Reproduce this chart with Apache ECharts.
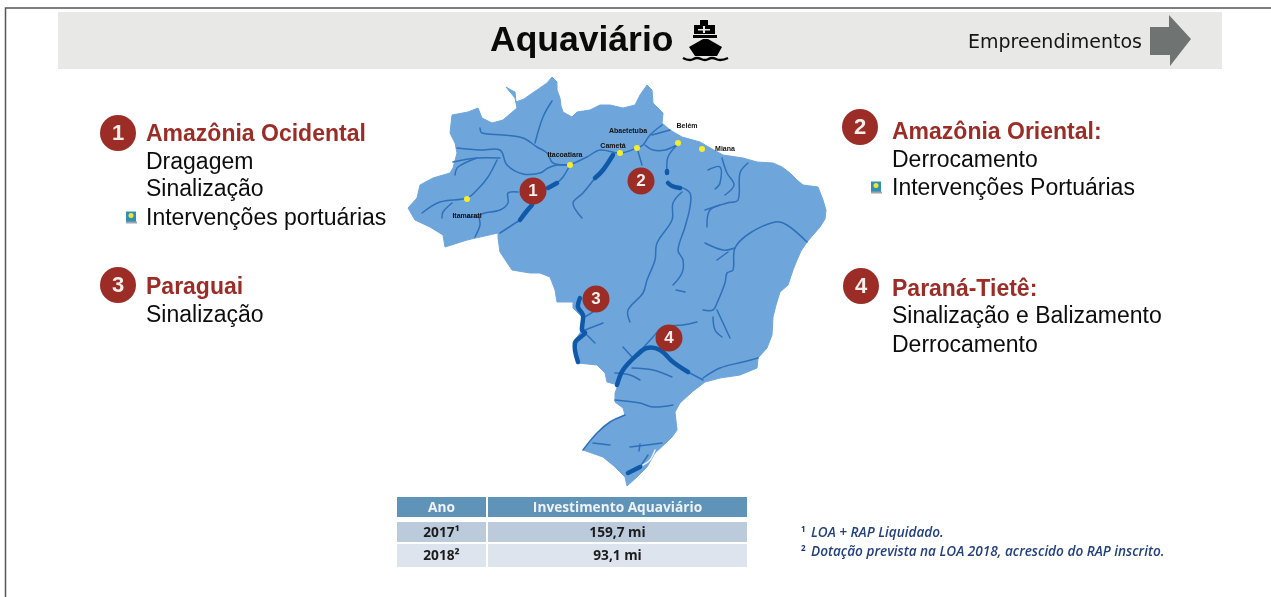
<!DOCTYPE html>
<html>
<head>
<meta charset="utf-8">
<title>Aquaviário</title>
<script src="https://cdn.jsdelivr.net/npm/echarts@6/dist/echarts.min.js"></script>
<style>
html,body{margin:0;padding:0;background:#fff;}
#main{width:1271px;height:597px;}
#main canvas{filter:blur(0.5px);}
</style>
</head>
<body>
<div id="main"></div>
<script>
// map geometry (map units = picture px)
var brazilOutline = [[506,87],[511,90],[515,92],[516,102],[524,99],[531,94],[537,90],[547,83],[552,77],[557,82],[557,90],[560,98],[561,106],[563,112],[572,117],[577,112],[590,110],[600,105],[610,105],[623,108],[635,105],[640,95],[647,85],[652,90],[653,103],[658,108],[663,113],[662,123],[670,130],[682,137],[700,142],[712,149],[723,155],[743,158],[757,162],[773,163],[782,167],[790,173],[797,180],[803,185],[818,187],[823,200],[826,210],[825,219],[820,227],[813,235],[807,242],[801,251],[797,260],[793,270],[788,285],[780,292],[776,305],[773,317],[772,335],[767,348],[758,358],[757,368],[740,375],[720,378],[705,382],[692,392],[680,403],[675,412],[677,430],[672,437],[667,442],[655,453],[647,467],[637,477],[627,486],[625,477],[615,467],[603,457],[583,450],[597,433],[610,422],[625,415],[623,408],[615,402],[615,393],[618,385],[607,382],[605,373],[597,365],[578,363],[576,350],[573,343],[582,330],[582,317],[573,308],[573,302],[557,302],[555,290],[550,277],[540,273],[530,273],[512,270],[500,252],[498,238],[498,233],[480,237],[467,240],[445,247],[443,235],[430,227],[415,220],[408,208],[417,198],[420,185],[433,178],[450,173],[453,168],[457,153],[455,143],[450,133],[452,115],[468,112],[478,108],[482,118],[492,123],[503,120],[517,108],[515,98]];
var thinRivers = [
  [[480,128],[482,133],[503,135],[523,138],[537,147],[547,153],[553,163],[570,165]],
  [[552,101],[543,117],[535,143]],
  [[457,148],[480,150],[500,150],[507,165],[523,174],[540,173],[548,168],[557,165],[570,165]],
  [[453,162],[477,158],[500,158]],
  [[455,175],[458,167],[477,158]],
  [[497,160],[488,177],[477,190],[467,198],[440,202],[422,213]],
  [[452,203],[443,212],[442,218]],
  [[518,192],[508,193],[508,203],[500,210],[480,215],[480,225],[475,237]],
  [[467,217],[480,217]],
  [[500,233],[520,220]],
  [[570,165],[563,177],[557,183]],
  [[582,218],[573,203],[583,193],[595,178]],
  [[570,165],[587,157],[600,150],[620,153],[637,148],[643,145],[650,135],[662,125]],
  [[645,145],[653,150],[665,150],[677,145]],
  [[652,135],[670,130]],
  [[637,148],[642,165]],
  [[677,145],[668,157],[667,172]],
  [[682,192],[673,203],[672,220],[657,243],[655,260],[647,280],[643,293],[628,310],[630,322]],
  [[680,187],[690,193],[690,207],[685,227],[678,250],[683,260],[682,273],[673,285]],
  [[748,163],[740,173],[738,200],[727,203],[710,210],[707,227]],
  [[705,210],[720,205]],
  [[722,158],[727,173],[734,185],[725,195]],
  [[708,170],[720,167],[720,183],[715,189]],
  [[807,242],[787,225],[775,222],[750,233],[735,248],[733,270],[727,273],[725,283],[717,303],[713,310],[703,310]],
  [[705,243],[723,250],[735,248]],
  [[717,260],[728,252]],
  [[717,310],[730,338]],
  [[713,317],[715,330],[722,337]],
  [[697,322],[683,325],[663,327],[653,337],[643,348]],
  [[688,372],[703,380]],
  [[703,378],[720,368],[743,362],[758,358]],
  [[623,347],[632,357]],
  [[632,368],[653,370],[672,377]],
  [[615,373],[630,375],[640,380]],
  [[615,400],[640,403],[653,407],[673,405]],
  [[583,450],[597,433],[610,422],[625,415]],
  [[593,443],[610,445]],
  [[630,447],[647,445],[662,443]],
  [[640,444],[639,451]],
  [[640,467],[648,455]],
  [[583,318],[593,312]],
  [[585,330],[603,323]],
  [[585,333],[595,343]],
  [[676,290],[685,292]]
];
var mainRivers = [
  [[520,220],[526,212],[532,205]],
  [[548,188],[557,183]],
  [[595,178],[603,170],[613,155]],
  [[667,171],[667,173]],
  [[668,183],[672,186],[680,188]],
  [[617,385],[623,370],[637,355],[647,348],[660,350],[673,362],[688,372]],
  [[628,473],[640,467]],
  [[580,298],[578,307],[583,315],[582,330],[585,333],[575,343],[578,362]]
];
var lagoon = [[[655,450],[650,460],[643,465]]];

var ports = [
  ['Itamarati',[467,199]],
  ['Itacoatiara',[570,165]],
  ['Cametá',[620,153]],
  ['Abaetetuba',[637,148]],
  ['Belém',[678,143]],
  ['Miana',[702,149]]
];
var corridors = [['1',[533,191]],['2',[641,181]],['3',[596,299]],['4',[669,338]]];

var title = 'Aquaviário';
var navLabel = 'Empreendimentos';
var blocks = [
  {n:'1',head:'Amazônia Ocidental',items:['Dragagem','Sinalização','Intervenções portuárias'],port:2},
  {n:'2',head:'Amazônia Oriental:',items:['Derrocamento','Intervenções Portuárias'],port:1},
  {n:'3',head:'Paraguai',items:['Sinalização'],port:-1},
  {n:'4',head:'Paraná-Tietê:',items:['Sinalização e Balizamento','Derrocamento'],port:-1}
];
var tableHead = ['Ano','Investimento Aquaviário'];
var tableYears = ['2017¹','2018²'];
var tableValues = ['159,7 mi','93,1 mi'];
var footnotes = ['LOA + RAP Liquidado.','Dotação prevista na LOA 2018, acrescido do RAP inscrito.'];

var RED = '#9b2c26', MAPBLUE = '#6ea6dc';
var portOffset = {'Itamarati':[0,17],'Itacoatiara':[-5,-10],'Cametá':[-7,-7],'Abaetetuba':[-9,-17],'Belém':[9,-17],'Miana':[23,0]};

function txt(x,y,text,font,fill,align){
  return {type:'text',silent:true,z:10,style:{x:x,y:y,text:text,font:font,fill:fill,
    textAlign:align||'left',textVerticalAlign:'middle',align:align||'left',verticalAlign:'middle'}};
}
function box(x,y,w,h,fill){
  return {type:'rect',silent:true,z:5,shape:{x:x,y:y,width:w,height:h},style:{fill:fill}};
}
function poly(points,fill){
  return {type:'polygon',silent:true,z:8,shape:{points:points},style:{fill:fill}};
}
function badge(x,y,r,n,size){
  return [
    {type:'circle',silent:true,z:8,shape:{cx:x,cy:y,r:r},style:{fill:RED}},
    txt(x,y+1,n,'bold '+size+'px "Liberation Sans"','#f4efec','center')
  ];
}
function bullet(x,y){
  return [
    box(x-5,y-5,10,11,'#2f8fb5'),
    {type:'rect',silent:true,z:6,shape:{x:x-5,y:y+5,width:11,height:2},style:{fill:'#9aa6ad'}},
    {type:'circle',silent:true,z:7,shape:{cx:x,cy:y-1,r:2.5},style:{fill:'#f2e531'}}
  ];
}

var g = [];
// frame + header band
g.push({type:'polyline',silent:true,z:9,shape:{points:[[5.5,597],[5.5,8],[1271,8]]},style:{stroke:'#555',lineWidth:1.5,fill:null}});
g.push(box(58,12,1164,57,'#e8e8e6'));
g.push(txt(490,41,title,'bold 35.5px "Liberation Sans"','#0a0a0a'));
g.push(txt(968,43,navLabel,'19px "DejaVu Sans"','#151515'));
g.push(poly([[1150,27],[1169,27],[1169,15],[1191,39],[1170,66],[1170,55],[1150,55]],'#6f7473'));
// ship
g.push(box(700,20,8,5,'#000'));
g.push(box(694,25,21,9,'#000'));
g.push(box(703,26,2,7,'#e8e8e6'));
g.push(box(698,29,12,1.5,'#e8e8e6'));
g.push(box(693,35,24,3,'#000'));
g.push(poly([[689,47],[703,39],[708,39],[722,47],[717,56],[695,56]],'#000'));
g.push({type:'polyline',silent:true,z:8,shape:{smooth:0.5,points:[[683,58],[690,60],[697,58],[705,60],[712,58],[720,60],[728,58]]},style:{stroke:'#000',lineWidth:2.4,fill:null}});

// text blocks
var spots = [
  {bx:118,by:133,tx:146,ys:[134.5,162.5,189.5,218.5],px:131},
  {bx:860,by:127,tx:892,ys:[132.5,160.5,188.5],px:876},
  {bx:118,by:285,tx:146,ys:[287.5,315.5]},
  {bx:861,by:286,tx:892,ys:[289.5,316.5,345.5]}
];
blocks.forEach(function(b,i){
  var s = spots[i];
  g = g.concat(badge(s.bx,s.by,18,b.n,22));
  g.push(txt(s.tx,s.ys[0],b.head,'bold 23px "Liberation Sans"',RED));
  b.items.forEach(function(t,j){
    g.push(txt(s.tx,s.ys[j+1],t,'23px "Liberation Sans"','#0d0d0d'));
    if(j===b.port){ g = g.concat(bullet(s.px,s.ys[j+1]-2)); }
  });
});

// table
var tf = 'bold 13.7px "Open Sans"';
g.push(box(397,497,89,20,'#5f93b8'));
g.push(box(488,497,259,20,'#5f93b8'));
g.push(txt(441.5,508,tableHead[0],tf,'#eef3f7','center'));
g.push(txt(617.5,508,tableHead[1],tf,'#eef3f7','center'));
var rowY = [522,544], rowH = [20,23], rowFill = ['#bccbdc','#dde4ee'];
tableYears.forEach(function(y,i){
  g.push(box(397,rowY[i],89,rowH[i],rowFill[i]));
  g.push(box(488,rowY[i],259,rowH[i],rowFill[i]));
  g.push(txt(441.5,rowY[i]+rowH[i]/2+1,y,tf,'#1c1c1c','center'));
  g.push(txt(617.5,rowY[i]+rowH[i]/2+1,tableValues[i],tf,'#1c1c1c','center'));
});
// footnotes
var noteY = [533,552];
footnotes.forEach(function(t,i){
  g.push(txt(801,noteY[i]-3,String(i+1),'bold 8px "Open Sans"','#1b2f6b'));
  g.push(txt(811,noteY[i],t,'italic 600 13.6px "Open Sans"','#23417f'));
});

echarts.registerMap('brasil',{type:'FeatureCollection',features:[
  {type:'Feature',properties:{name:'Brasil'},geometry:{type:'Polygon',coordinates:[brazilOutline.concat([brazilOutline[0]])]}}
]});
var xs = brazilOutline.map(function(p){return p[0]}), ys = brazilOutline.map(function(p){return p[1]});
var minX = Math.min.apply(null,xs), maxX = Math.max.apply(null,xs), minY = Math.min.apply(null,ys), maxY = Math.max.apply(null,ys);

// rivers are drawn through the geo coordinate system, smoothed by the polyline shape
function riverSeries(list,color,width,z){
  return {
    type:'custom',coordinateSystem:'geo',geoIndex:0,silent:true,z:z,clip:false,
    data:list.map(function(r,i){return [i,0]}),
    renderItem:function(params,api){
      var pts = list[api.value(0)].map(function(p){return api.coord(p)});
      return {type:'polyline',shape:{points:pts,smooth:0.35},style:{stroke:color,lineWidth:width,fill:null,lineCap:'round',lineJoin:'round'}};
    }
  };
}

var chart = echarts.init(document.getElementById('main'),null,{renderer:'canvas'});
chart.setOption({
  backgroundColor:'#fff',
  animation:false,
  geo:{
    map:'brasil',roam:false,silent:true,
    projection:{project:function(p){return p},unproject:function(p){return p}},
    left:minX,top:minY,width:maxX-minX,height:maxY-minY,
    label:{show:false},
    itemStyle:{areaColor:MAPBLUE,borderColor:MAPBLUE,borderWidth:1}
  },
  series:[
    riverSeries(thinRivers,'#2f70ba',1.5,2),
    riverSeries(mainRivers,'#0f59a8',4.5,3),
    riverSeries(lagoon,'#e8f0f8',1.5,3),
    {
      type:'scatter',coordinateSystem:'geo',geoIndex:0,silent:true,z:4,
      symbol:'circle',symbolSize:6,itemStyle:{color:'#f7ee2a',opacity:1},
      data:ports.map(function(p){return {
        name:p[0],value:p[1],
        label:{show:true,position:'inside',offset:portOffset[p[0]],formatter:'{b}',color:'#111',fontSize:7,fontWeight:'bold',fontFamily:'"Liberation Sans"'}
      }})
    },
    {
      type:'scatter',coordinateSystem:'geo',geoIndex:0,silent:true,z:5,
      symbol:'circle',symbolSize:27,itemStyle:{color:RED,opacity:1},
      data:corridors.map(function(c){return {name:c[0],value:c[1]}}),
      label:{show:true,position:'inside',formatter:'{b}',color:'#f4efec',fontSize:17,fontWeight:'bold',fontFamily:'"Liberation Sans"'}
    }
  ],
  graphic:g
});
</script>
</body>
</html>
